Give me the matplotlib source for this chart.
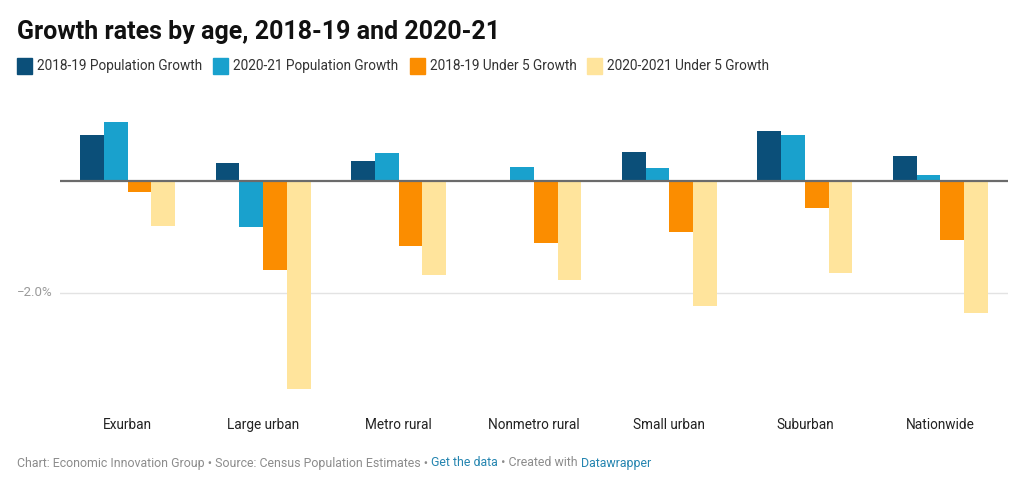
import matplotlib
matplotlib.use('Agg')
import matplotlib.pyplot as plt
import matplotlib.transforms as mtransforms
from matplotlib.patches import Rectangle
import numpy as np

plt.rcParams['font.family'] = ['Roboto', 'DejaVu Sans']

categories = ['Exurban', 'Large urban', 'Metro rural', 'Nonmetro rural',
              'Small urban', 'Suburban', 'Nationwide']
pop_1819 = [0.82, 0.31, 0.35, 0.0, 0.51, 0.89, 0.45]
pop_2021 = [1.05, -0.82, 0.50, 0.24, 0.22, 0.81, 0.11]
u5_1819 = [-0.20, -1.59, -1.16, -1.11, -0.92, -0.49, -1.06]
u5_2021 = [-0.81, -3.72, -1.69, -1.78, -2.23, -1.64, -2.36]

series_names = ['2018-19 Population Growth', '2020-21 Population Growth',
                '2018-19 Under 5 Growth', '2020-2021 Under 5 Growth']
colors = ['#0b4f79', '#19a1cd', '#fb8d00', '#ffe49c']

W, H = 1024, 488
fig = plt.figure(figsize=(W / 100, H / 100), dpi=100)

# axes placed in pixel terms
ax_left, ax_right, ax_top, ax_bot = 60, 1008, 100, 400
ax = fig.add_axes([ax_left / W, 1 - ax_bot / H, (ax_right - ax_left) / W, (ax_bot - ax_top) / H])

zero_px, per_pct = 180.7, 56.0
ax.set_ylim(-(ax_bot - zero_px) / per_pct, (zero_px - ax_top) / per_pct)
ax.set_xlim(-0.5, len(categories) - 0.5)

x = np.arange(len(categories))
w = 0.175
all_series = [pop_1819, pop_2021, u5_1819, u5_2021]
for k, (vals, c) in enumerate(zip(all_series, colors)):
    ax.bar(x + (k - 1.5) * w, vals, width=w, color=c, zorder=3, linewidth=0)

ax.axhline(-2.0, color='#e3e3e3', lw=1, zorder=1)
ax.axhline(0, color='#6b6b6b', lw=1.6, zorder=4)

for s in ax.spines.values():
    s.set_visible(False)
ax.set_xticks([])
ax.set_yticks([])

# y label
fig.text(53 / W, 1 - 293 / H, '\u22122.0%', ha='right', va='center', fontsize=9.5, color='#9a9a9a')

# category labels
trans = mtransforms.blended_transform_factory(ax.transData, fig.transFigure)
for i, cat in enumerate(categories):
    ax.text(i, 1 - 425 / H, cat, transform=trans, ha='center', va='center',
            fontsize=9.8, color='#222222')

# title
fig.text(17 / W, 1 - 32 / H, 'Growth rates by age, 2018-19 and 2020-21',
         ha='left', va='center', fontsize=18, fontweight='bold', color='#111111')

# legend
leg_x = [17, 213, 410, 587]
for lx, name, c in zip(leg_x, series_names, colors):
    fig.patches.append(Rectangle((lx / W, 1 - 74 / H), 15 / W, 16 / H,
                                 transform=fig.transFigure, color=c, figure=fig))
    fig.text((lx + 20) / W, 1 - 66 / H, name, ha='left', va='center',
             fontsize=9.8, color='#333333')

# footer with coloured links
parts = [('Chart: Economic Innovation Group \u2022 Source: Census Population Estimates \u2022 ', '#8c8c8c'),
         ('Get the data', '#2585b0'),
         (' \u2022 Created with ', '#8c8c8c'),
         ('Datawrapper', '#2585b0')]
renderer = fig.canvas.get_renderer()
cur = 17
for txt, c in parts:
    t = fig.text(cur / W, 1 - 463 / H, txt, ha='left', va='center', fontsize=8.95, color=c)
    bb = t.get_window_extent(renderer=renderer)
    cur += bb.width

fig.savefig('out.png', dpi=100, facecolor='white')
